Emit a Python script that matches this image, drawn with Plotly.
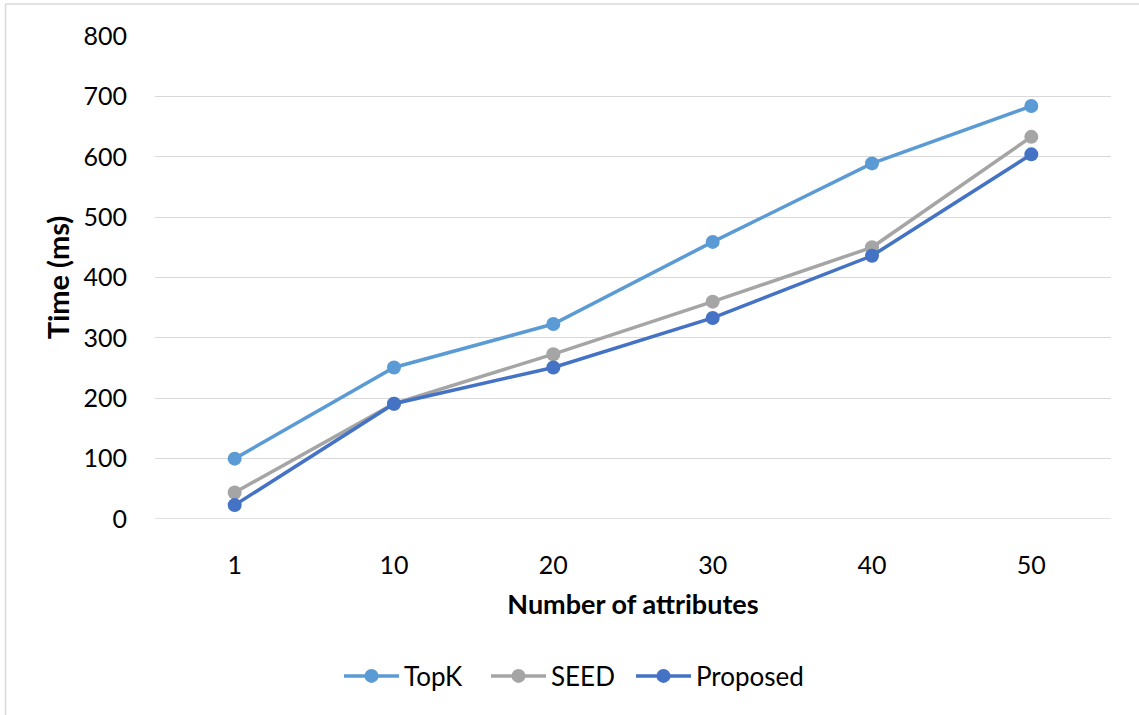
import plotly.graph_objects as go

categories = ["1", "10", "20", "30", "40", "50"]
topk = [100, 251, 323, 459, 589, 684]
seed = [44, 191, 273, 360, 450, 633]
proposed = [23, 191, 251, 333, 436, 604]
y_ticks = [0, 100, 200, 300, 400, 500, 600, 700, 800]

series = [("TopK", topk, "#5B9BD5"), ("SEED", seed, "#A5A5A5"), ("Proposed", proposed, "#4472C4")]
legend_left_px = [345, 492, 637]

W, H = 1139, 715
L, T = 155, 36
R = W - 1111
B = H - 519

font_family = "Lato, 'Open Sans', sans-serif"
pw = W - L - R
ph = H - T - B

def px_x(ax):
    return (ax - L) / pw

def px_y(ay):
    return (T + ph - ay) / ph

fig = go.Figure()
legend_layouts = {}
for i, (name, vals, col) in enumerate(series):
    lg = "legend" if i == 0 else f"legend{i + 1}"
    fig.add_trace(go.Scatter(
        x=categories, y=vals, name=name, mode="lines+markers",
        line=dict(color=col, width=3.5),
        marker=dict(color=col, size=14),
        legend=lg,
    ))
    legend_layouts[lg] = dict(
        orientation="h", x=px_x(legend_left_px[i] - 6), xanchor="left",
        y=px_y(676), yanchor="middle", font=dict(size=26),
        itemwidth=55, bgcolor="rgba(0,0,0,0)",
    )

fig.update_layout(
    width=W, height=H,
    margin=dict(l=L, r=R, t=T, b=B),
    paper_bgcolor="white", plot_bgcolor="white",
    font=dict(family=font_family, size=25, color="#000000"),
    showlegend=True,
    xaxis=dict(type="category", range=[-0.5, 5.5], showgrid=False,
               zeroline=False, showline=False,
               ticks="outside", ticklen=0, ticklabelstandoff=24,
               title=dict(text="<b>Number of attributes</b>", font=dict(size=27), standoff=17)),
    yaxis=dict(range=[0, 800], tickvals=y_ticks, showgrid=True,
               gridcolor="#D9D9D9", gridwidth=1.3, zeroline=False,
               showline=False, ticks="", ticklabelstandoff=27,
               title=dict(text="<b>Time (ms)</b>", font=dict(size=29), standoff=5)),
    shapes=[
        dict(type="line", xref="paper", yref="paper",
             x0=px_x(5.5), x1=px_x(1160),
             y0=px_y(4), y1=px_y(4),
             line=dict(color="#D9D9D9", width=1.5)),
        dict(type="line", xref="paper", yref="paper",
             x0=px_x(5.5), x1=px_x(5.5),
             y0=px_y(4), y1=px_y(740),
             line=dict(color="#D9D9D9", width=1.5)),
        dict(type="line", xref="paper", yref="y",
             x0=0, x1=1, y0=0, y1=0, layer="below",
             line=dict(color="#D9D9D9", width=1.3)),
    ],
    **legend_layouts,
)

fig.write_html("out.html", config={"displayModeBar": False},
               post_script="document.body.style.margin='0';document.body.style.overflow='hidden';")
